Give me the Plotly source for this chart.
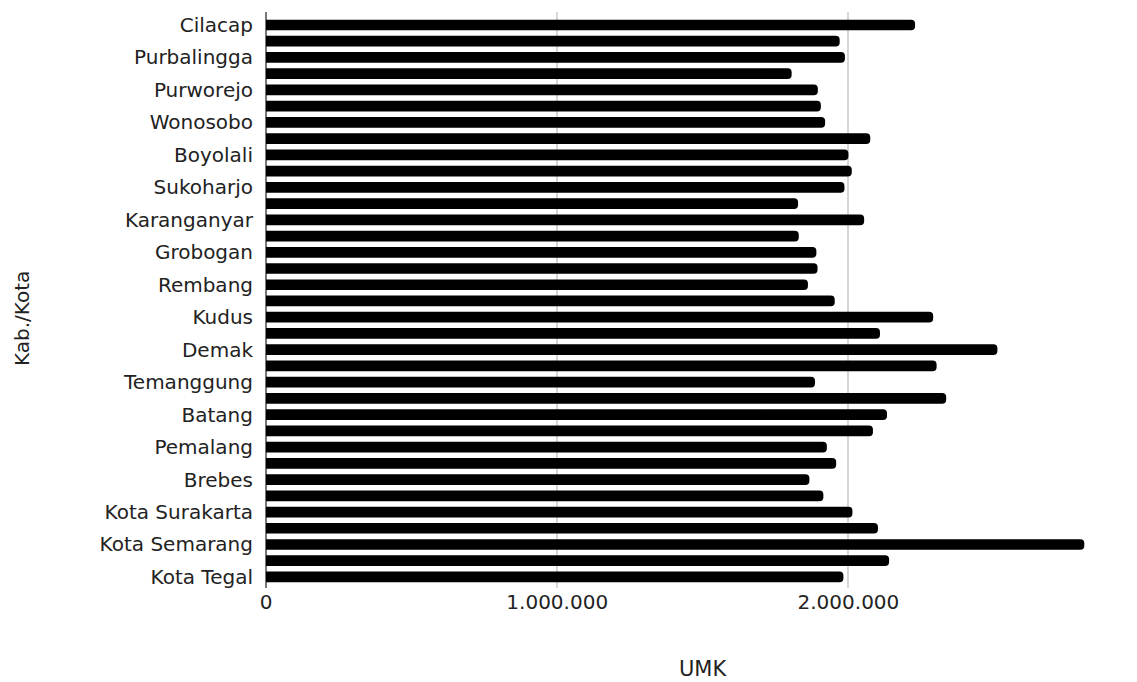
import plotly.graph_objects as go

categories = [
    "Cilacap", "Banyumas", "Purbalingga", "Banjarnegara", "Purworejo", "Kebumen",
    "Wonosobo", "Magelang", "Boyolali", "Klaten", "Sukoharjo", "Wonogiri",
    "Karanganyar", "Sragen", "Grobogan", "Blora", "Rembang", "Pati", "Kudus",
    "Jepara", "Demak", "Semarang", "Temanggung", "Kendal", "Batang", "Pekalongan",
    "Pemalang", "Tegal", "Brebes", "Kota Magelang", "Kota Surakarta", "Kota Salatiga",
    "Kota Semarang", "Kota Pekalongan", "Kota Tegal",
]
umk = [
    2228904, 1970000, 1988000, 1805000, 1895000, 1905400,
    1920000, 2075000, 2000000, 2011514, 1986450, 1827000,
    2054040, 1829500, 1890000, 1894000, 1861000, 1953000, 2290995,
    2108403, 2511526, 2302798, 1885208, 2335735, 2132535, 2084155,
    1926000, 1958000, 1866000, 1914000, 2013810, 2101457,
    2810025, 2139754, 1982750,
]
x_tick_vals = [0, 1000000, 2000000]
x_tick_text = ["0", "1.000.000", "2.000.000"]
x_title = "UMK"
y_title = "Kab./Kota"

font_family = "DejaVu Sans, Arial, sans-serif"
text_color = "#222222"

fig = go.Figure(
    go.Bar(
        x=umk,
        y=categories,
        orientation="h",
        marker=dict(color="#000000", line=dict(width=0), cornerradius=4),
        width=0.66,
        hoverinfo="x+y",
    )
)

n = len(categories)
fig.update_layout(
    width=1129,
    height=674,
    margin=dict(l=258, r=0, t=4, b=94, autoexpand=False),
    paper_bgcolor="white",
    plot_bgcolor="white",
    showlegend=False,
    font=dict(family=font_family, size=20, color=text_color),
    xaxis=dict(
        range=[0, 2991000],
        tickmode="array",
        tickvals=x_tick_vals,
        ticktext=x_tick_text,
        showgrid=True,
        gridcolor="#d6d6d6",
        gridwidth=2,
        zeroline=True,
        zerolinecolor="#777777",
        zerolinewidth=2,
        showline=False,
        ticks="",
        tickfont=dict(size=20, color=text_color),
        fixedrange=True,
    ),
    yaxis=dict(
        type="category",
        categoryorder="array",
        categoryarray=categories,
        range=[n - 0.5 + 0.18, -0.8],
        tickmode="array",
        tickvals=categories[::2],
        showgrid=False,
        zeroline=False,
        showline=False,
        ticks="",
        ticklabelstandoff=12,
        tickfont=dict(size=20, color=text_color),
        fixedrange=True,
    ),
    annotations=[
        dict(
            text=x_title, xref="paper", yref="paper", x=0.502, y=0,
            xanchor="center", yanchor="middle", yshift=-81, showarrow=False,
            font=dict(size=21, color=text_color),
        ),
        dict(
            text=y_title, xref="paper", yref="paper", x=0, y=0.467,
            xanchor="center", yanchor="middle", xshift=-244, textangle=-90,
            showarrow=False, font=dict(size=20, color=text_color),
        ),
    ],
)

fig.write_html("out.html")
